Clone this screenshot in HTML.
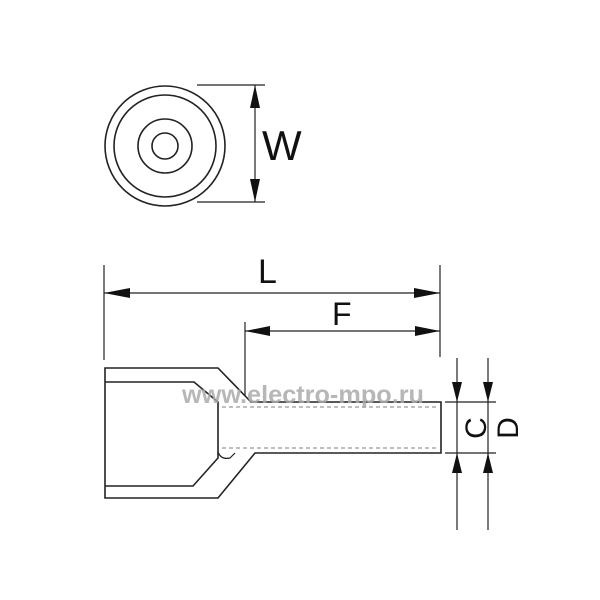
<!DOCTYPE html>
<html><head><style>body{margin:0;background:#fff}svg{display:block}</style></head><body>
<svg width="600" height="600" viewBox="0 0 600 600" xmlns="http://www.w3.org/2000/svg">
<rect width="600" height="600" fill="#fff"/>
<g fill="none" stroke="#222" stroke-width="1.6">
<circle cx="165" cy="146" r="60"/>
<circle cx="165" cy="146" r="51"/>
<circle cx="165" cy="146" r="27"/>
<circle cx="165" cy="146" r="13"/>
<line x1="197" y1="85" x2="265" y2="85" stroke-width="1.2"/>
<line x1="197" y1="202" x2="265" y2="202" stroke-width="1.2"/>
<line x1="255" y1="85" x2="255" y2="202" stroke-width="1.2"/>
<path d="M105,368 L218,368 L251,402 L441,402 L441,453 L255,453 L218,498 L105,498 Z"/>
<path d="M105,382 L194,382 L218,402 L218,458 L193,486 L105,486"/>
<path d="M218,452 q3,8 12,6 l5,-5" stroke-width="1.2"/>
<line x1="222" y1="407" x2="437" y2="407" stroke="#999" stroke-width="1.2" stroke-dasharray="4,3"/>
<line x1="222" y1="448" x2="437" y2="448" stroke="#999" stroke-width="1.2" stroke-dasharray="4,3"/>
<g stroke-width="1.2">
<line x1="104" y1="265" x2="104" y2="360"/>
<line x1="440" y1="265" x2="440" y2="357"/>
<line x1="104" y1="293" x2="440" y2="293"/>
<line x1="245" y1="322" x2="245" y2="396"/>
<line x1="245" y1="331" x2="440" y2="331"/>
<line x1="457" y1="358" x2="457" y2="530"/>
<line x1="488" y1="358" x2="488" y2="530"/>
<line x1="445" y1="402" x2="496" y2="402"/>
<line x1="445" y1="453" x2="496" y2="453"/>
</g>
</g>
<g fill="#111">
<polygon points="255,85 250,108 260,108"/>
<polygon points="255,202 250,179 260,179"/>
<polygon points="104,293 130,288 130,298"/>
<polygon points="440,293 414,288 414,298"/>
<polygon points="245,331 270,326 270,336"/>
<polygon points="440,331 415,326 415,336"/>
<polygon points="457,402 452,382 462,382"/>
<polygon points="488,402 483,382 493,382"/>
<polygon points="457,453 452,473 462,473"/>
<polygon points="488,453 483,473 493,473"/>
</g>
<g font-family="Liberation Sans, sans-serif" fill="#111">
<text x="262" y="160" font-size="42">W</text>
<text x="258" y="283" font-size="34">L</text>
<text x="332" y="325" font-size="32">F</text>
<text transform="translate(486,428) rotate(-90)" font-size="30" text-anchor="middle">C</text>
<text transform="translate(518,428) rotate(-90)" font-size="30" text-anchor="middle">D</text>
<text x="182" y="403" font-size="25" font-weight="bold" fill="#aaa" fill-opacity="0.85" textLength="242" lengthAdjust="spacingAndGlyphs">www.electro-mpo.ru</text>
</g>
</svg>
</body></html>
